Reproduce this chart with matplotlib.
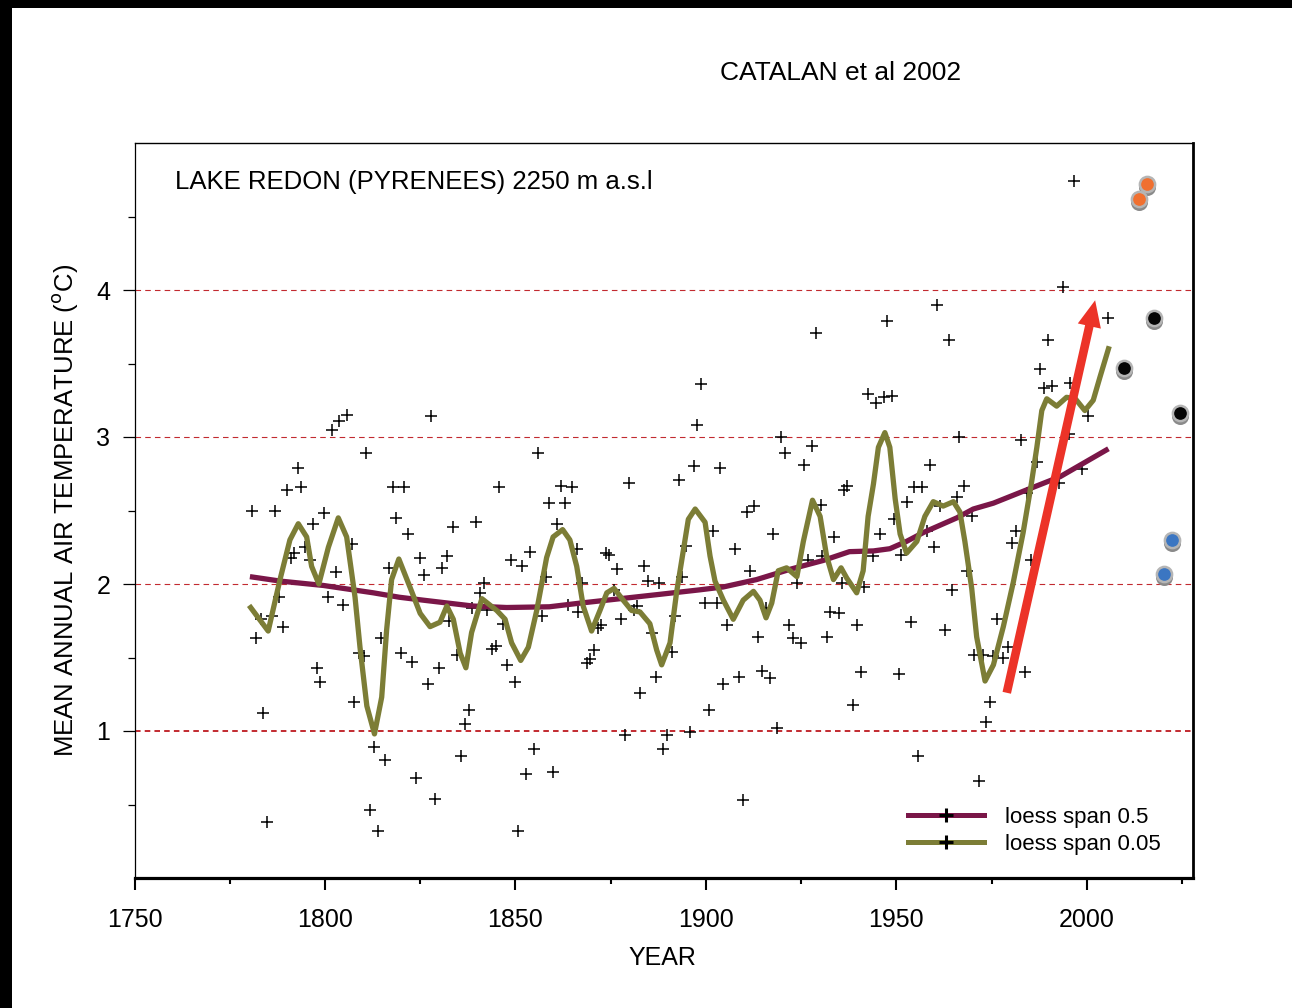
import matplotlib
matplotlib.use('Agg')
import matplotlib.pyplot as plt
import matplotlib.transforms as mtransforms
from matplotlib.lines import Line2D
from matplotlib.patches import Rectangle

plt.rcParams['font.family'] = ['Liberation Sans', 'DejaVu Sans']
plt.rcParams['lines.scale_dashes'] = False

# ---------------- data ----------------
years = [
    1780.8, 1781.8, 1783.1, 1783.8, 1784.9, 1786.1, 1787.0, 1788.0, 1788.9, 1790.0,
    1791.0, 1792.0, 1793.0, 1793.8, 1794.8, 1796.1, 1796.8, 1797.9, 1798.7, 1799.8,
    1800.8, 1801.8, 1802.8, 1803.8, 1804.7, 1805.9, 1807.0, 1807.7, 1808.9, 1810.3,
    1810.8, 1811.8, 1812.8, 1813.8, 1814.6, 1815.8, 1816.8, 1817.9, 1818.7,
    1819.9, 1820.8, 1821.9, 1822.9, 1823.8, 1825.0, 1825.9, 1827.0, 1827.8, 1829.0,
    1830.0, 1830.8, 1832.0, 1832.6, 1833.7, 1834.6, 1835.6, 1836.8, 1837.7, 1838.5,
    1839.7, 1840.7, 1841.8, 1842.5, 1843.8, 1844.8, 1845.8, 1846.8, 1847.7, 1848.8,
    1849.8, 1850.8, 1851.8, 1852.9, 1853.8, 1854.9, 1855.9, 1857.1,
    1858.0, 1858.9, 1860.0, 1860.8, 1861.9, 1862.9, 1863.9, 1864.9, 1866.1, 1866.5,
    1867.5, 1868.7, 1869.6, 1870.6, 1871.8, 1872.6, 1873.7, 1874.7, 1875.9, 1876.8,
    1877.7, 1878.8, 1879.7, 1881.2, 1881.8, 1882.8, 1883.8, 1884.7, 1885.9, 1886.9,
    1887.8, 1888.8, 1889.9, 1891.0, 1891.9, 1893.0, 1893.8, 1894.7, 1895.8, 1896.8,
    1897.8,
    1898.7, 1899.8, 1900.8, 1901.8, 1902.9, 1903.7, 1904.6, 1905.6, 1907.7, 1908.7,
    1909.7, 1910.7, 1911.6, 1912.7, 1913.8, 1914.7, 1915.8, 1916.8, 1917.7, 1918.8,
    1919.7, 1920.8, 1921.8, 1923.0, 1923.9, 1924.9, 1925.8, 1926.9, 1927.9, 1928.9,
    1930.2, 1930.4, 1931.9, 1932.6, 1933.7, 1935.0, 1935.7, 1936.3, 1937.0,
    1938.6, 1939.7, 1940.7, 1941.5, 1942.6, 1944.0, 1944.7, 1945.7, 1946.9, 1947.6,
    1948.8, 1949.5, 1950.7, 1951.2, 1952.7, 1953.8, 1954.6, 1955.8, 1956.8, 1958.1,
    1958.8, 1959.9, 1960.8, 1961.5, 1962.9, 1963.8, 1964.7, 1965.9, 1966.5, 1967.7,
    1968.5, 1969.8, 1970.4, 1971.8, 1972.8, 1973.6, 1974.6, 1975.5, 1976.4,
    1978.1, 1979.4, 1980.5, 1981.4, 1982.7, 1983.8, 1984.2, 1985.3, 1986.9, 1987.7,
    1988.7, 1989.7, 1990.8, 1992.6, 1993.7, 1995.4, 1995.6, 1996.6, 1998.8, 2000.4,
    2005.7,
]
temps = [
    2.50, 1.63, 1.76, 1.12, 0.38, 1.78, 2.50, 1.91, 1.71, 2.64,
    2.18, 2.21, 2.79, 2.66, 2.25, 2.16, 2.41, 1.43, 1.33, 2.48,
    1.91, 3.05, 2.08, 3.11, 1.86, 3.15, 2.27, 1.20, 1.53, 1.51,
    2.89, 0.46, 0.89, 0.32, 1.63, 0.80, 2.11, 2.66, 2.45,
    1.53, 2.66, 2.34, 1.47, 0.68, 2.18, 2.06, 1.32, 3.14, 0.54,
    1.43, 2.11, 2.19, 1.75, 2.39, 1.52, 0.83, 1.05, 1.14, 1.84,
    2.42, 1.94, 2.01, 1.82, 1.56, 1.58, 2.66, 1.73, 1.45, 2.16,
    1.33, 0.32, 2.12, 0.71, 2.22, 0.88, 2.89, 1.78,
    2.05, 2.55, 0.72, 2.41, 2.67, 2.55, 1.86, 2.66, 2.24, 1.81,
    2.01, 1.46, 1.49, 1.55, 1.70, 1.72, 2.21, 2.20, 1.96, 2.10,
    1.76, 0.97, 2.69, 1.82, 1.85, 1.26, 2.12, 2.02, 1.67, 1.37,
    2.01, 0.88, 0.97, 1.54, 1.78, 2.71, 2.05, 2.26, 0.99, 2.80,
    3.08,
    3.36, 1.87, 1.14, 2.36, 1.87, 2.79, 1.32, 1.72, 2.24, 1.37,
    0.53, 2.49, 2.09, 2.53, 1.64, 1.41, 1.84, 1.36, 2.34, 1.02,
    3.00, 2.89, 1.72, 1.63, 2.01, 1.60, 2.81, 2.16, 2.94, 3.71,
    2.54, 2.19, 1.64, 1.81, 2.32, 1.80, 2.01, 2.64, 2.67,
    1.18, 1.72, 1.40, 1.98, 3.29, 2.19, 3.23, 2.34, 3.27, 3.79,
    3.28, 2.44, 1.39, 2.20, 2.56, 1.74, 2.66, 0.83, 2.66, 2.36,
    2.81, 2.25, 3.90, 2.53, 1.69, 3.66, 1.96, 2.59, 3.00, 2.67,
    2.09, 2.46, 1.52, 0.66, 1.52, 1.06, 1.20, 1.51, 1.76,
    1.50, 1.57, 2.28, 2.36, 2.98, 1.40, 2.62, 2.16, 2.83, 3.46,
    3.33, 3.66, 3.35, 2.69, 4.02, 3.02, 3.37, 4.74, 2.78, 3.14,
    3.81,
]

loess05_years = [1780.3, 1788.2, 1799.6, 1812.7, 1819.5, 1825.8, 1838.9, 1847.7, 1858.9,
                 1867.0, 1877.5, 1888.0, 1898.3, 1904.6, 1913.3, 1922.1, 1930.8, 1937.7,
                 1944.0, 1948.3, 1952.7, 1957.1, 1961.5, 1965.9, 1970.2, 1975.5, 1984.2,
                 1993.0, 2005.7]
loess05_temps = [2.05, 2.02, 1.99, 1.94, 1.91, 1.89, 1.85, 1.84, 1.845,
                 1.87, 1.90, 1.93, 1.96, 1.98, 2.03, 2.10, 2.16, 2.22,
                 2.225, 2.24, 2.29, 2.35, 2.40, 2.45, 2.51, 2.55, 2.64,
                 2.73, 2.92]

loess005_years = [1780.5, 1785.1, 1788.2, 1790.8, 1793.0, 1795.2, 1796.5, 1798.4, 1800.9,
                  1803.5, 1805.7, 1807.9, 1809.2, 1811.0, 1813.0, 1814.9, 1816.2, 1817.5,
                  1819.4, 1822.3, 1825.0, 1827.6, 1830.2, 1832.0, 1833.7, 1835.5, 1837.0,
                  1838.5, 1841.2, 1845.1, 1847.3, 1849.0, 1851.4, 1853.4, 1855.6, 1858.2,
                  1859.9, 1862.4, 1864.3, 1866.1, 1867.8, 1870.0, 1872.2, 1874.0, 1875.9,
                  1878.3, 1880.5, 1882.7, 1885.3, 1887.1, 1888.4, 1890.6, 1892.3, 1894.1,
                  1895.4, 1897.2, 1899.8, 1901.1, 1902.4, 1904.6, 1907.2, 1909.8, 1912.5,
                  1914.2, 1915.8, 1917.3, 1919.0, 1921.2, 1923.9, 1925.6, 1928.0, 1930.0,
                  1931.7, 1933.5, 1935.5, 1937.0, 1939.6, 1941.3, 1942.6, 1944.0, 1945.3,
                  1947.0, 1948.3, 1949.7, 1951.0, 1952.7, 1955.4, 1957.5, 1959.7, 1962.3,
                  1965.0, 1966.7, 1968.0, 1969.8, 1971.1, 1973.3, 1975.5, 1978.1, 1980.7,
                  1983.3, 1985.5, 1986.9, 1988.2, 1989.5, 1992.1, 1994.7, 1997.0, 1999.5,
                  2001.7, 2003.5, 2005.7]
loess005_temps = [1.84, 1.68, 2.03, 2.30, 2.41, 2.32, 2.12, 2.00, 2.25,
                  2.45, 2.32, 1.91, 1.57, 1.17, 0.98, 1.23, 1.69, 2.03,
                  2.17, 1.98, 1.80, 1.71, 1.74, 1.85, 1.76, 1.53, 1.43,
                  1.67, 1.90, 1.82, 1.76, 1.60, 1.48, 1.57, 1.82, 2.18,
                  2.32, 2.37, 2.30, 2.12, 1.85, 1.68, 1.82, 1.94, 1.97,
                  1.89, 1.82, 1.81, 1.73, 1.55, 1.45, 1.60, 1.94, 2.23,
                  2.44, 2.51, 2.42, 2.19, 2.02, 1.89, 1.76, 1.89, 1.95,
                  1.89, 1.77, 1.87, 2.09, 2.11, 2.05, 2.29, 2.57, 2.46,
                  2.19, 2.03, 2.11, 2.04, 1.94, 2.09, 2.46, 2.68, 2.93,
                  3.03, 2.93, 2.58, 2.34, 2.21, 2.29, 2.46, 2.56, 2.53,
                  2.56, 2.49, 2.29, 1.97, 1.64, 1.34, 1.45, 1.71, 2.01,
                  2.35, 2.69, 2.93, 3.18, 3.26, 3.21, 3.27, 3.26, 3.18,
                  3.25, 3.41, 3.60]

orange_years = [2013.8, 2015.8]
orange_temps = [4.62, 4.72]
black_years = [2009.8, 2017.7, 2024.4]
black_temps = [3.47, 3.81, 3.16]
blue_years = [2020.3, 2022.4]
blue_temps = [2.07, 2.30]

arrow_from = (1979.0, 1.26)
arrow_to = (2002.2, 3.93)

x_ticks = [1750, 1800, 1850, 1900, 1950, 2000]
x_minor = [1775, 1825, 1875, 1925, 1975, 2025]
y_ticks = [1, 2, 3, 4]
y_minor = [0.5, 1.5, 2.5, 3.5, 4.5]
grid_levels = [1, 2, 3, 4]

MAROON = '#7a1648'
OLIVE = '#7c7d36'
GRIDRED = '#c22a30'

# ---------------- figure ----------------
W, H = 1292, 1008
fig = plt.figure(figsize=(W / 100, H / 100), dpi=100)
fig.patch.set_facecolor('white')
# black border bands (left and top)
fig.patches.append(Rectangle((0, 0), 12 / W, 1, transform=fig.transFigure,
                             facecolor='black', edgecolor='none', zorder=0))
fig.patches.append(Rectangle((0, 1 - 8 / H), 1, 8 / H, transform=fig.transFigure,
                             facecolor='black', edgecolor='none', zorder=0))

L, R, T, B = 134.5, 1193, 143, 878
ax = fig.add_axes([L / W, 1 - B / H, (R - L) / W, (B - T) / H])
ax.set_xlim(1750, 1750 + (R - L) / 3.809)
ax.set_ylim(0, 5)

for g in grid_levels:
    ax.axhline(g, color=GRIDRED, lw=1.4 if g == 1 else 0.8,
               dashes=(4, 3), zorder=1)

ax.plot(years, temps, linestyle='none', marker='+', color='black',
        markersize=9, markeredgewidth=1.1, zorder=2)

ax.plot(loess05_years, loess05_temps, color=MAROON, lw=3.8,
        solid_capstyle='butt', zorder=3)
ax.plot(loess005_years, loess005_temps, color=OLIVE, lw=3.8,
        solid_joinstyle='round', zorder=3)

ax.annotate('', xy=arrow_to, xytext=arrow_from,
            arrowprops=dict(arrowstyle='simple,head_length=19,head_width=17,tail_width=6.2',
                            mutation_scale=1, color='#ec3328', shrinkA=0, shrinkB=0,
                            lw=0),
            zorder=4)

shadow = mtransforms.offset_copy(ax.transData, fig=fig, x=0, y=-3, units='dots')
for yrs, tps, col in [(orange_years, orange_temps, '#f07030'),
                      (black_years, black_temps, '#050505'),
                      (blue_years, blue_temps, '#3b76c2')]:
    ax.scatter(yrs, tps, s=150, color='#8a8a8a', transform=shadow, zorder=5,
               linewidths=0)
    ax.scatter(yrs, tps, s=120, color=col, edgecolors='#b5b5b5', linewidths=1.8,
               zorder=6)

# spines
ax.spines['left'].set_linewidth(0.9)
ax.spines['top'].set_linewidth(1.0)
ax.spines['bottom'].set_linewidth(2.3)
ax.spines['right'].set_linewidth(2.0)

ax.set_xticks(x_ticks)
ax.set_xticks(x_minor, minor=True)
ax.set_yticks(y_ticks)
ax.set_yticks(y_minor, minor=True)
ax.set_yticklabels([str(v) for v in y_ticks])
ax.tick_params(axis='x', which='major', direction='out', length=8.5, width=1.5,
               pad=13, labelsize=18)
ax.tick_params(axis='x', which='minor', direction='out', length=4.5, width=1.5)
ax.tick_params(axis='y', which='major', direction='out', length=8.5, width=0.9,
               pad=9, labelsize=18)
ax.tick_params(axis='y', which='minor', direction='out', length=5, width=0.9)

ax.set_xlabel('YEAR', fontsize=18)
ax.xaxis.set_label_coords((662 - L) / (R - L), -(946 - B) / (B - T))
ax.set_ylabel(r'MEAN ANNUAL AIR TEMPERATURE ($^{\rm o}$C)', fontsize=18.5)
ax.yaxis.set_label_coords(-(L - 80) / (R - L), 0.5)

ax.text((175 - L) / (R - L), (B - 189) / (B - T), 'LAKE REDON (PYRENEES) 2250 m a.s.l',
        transform=ax.transAxes, fontsize=18.5, ha='left', va='baseline')
fig.text(840.5 / W, 1 - 80 / H, 'CATALAN et al 2002', fontsize=19,
         ha='center', va='baseline')

handles = [
    Line2D([], [], color=MAROON, lw=3.6, marker='+', markeredgecolor='black',
           markersize=10, markeredgewidth=2.2),
    Line2D([], [], color=OLIVE, lw=3.6, marker='+', markeredgecolor='black',
           markersize=10, markeredgewidth=2.2),
]
ax.legend(handles, ['loess span 0.5', 'loess span 0.05'], loc='center left',
          bbox_to_anchor=((908 - L) / (R - L), (B - 831) / (B - T)),
          frameon=False, fontsize=16, handlelength=3.4, handletextpad=0.95,
          labelspacing=0.25, borderpad=0, borderaxespad=0, numpoints=1)

fig.savefig('out.png', dpi=100, facecolor='white')
